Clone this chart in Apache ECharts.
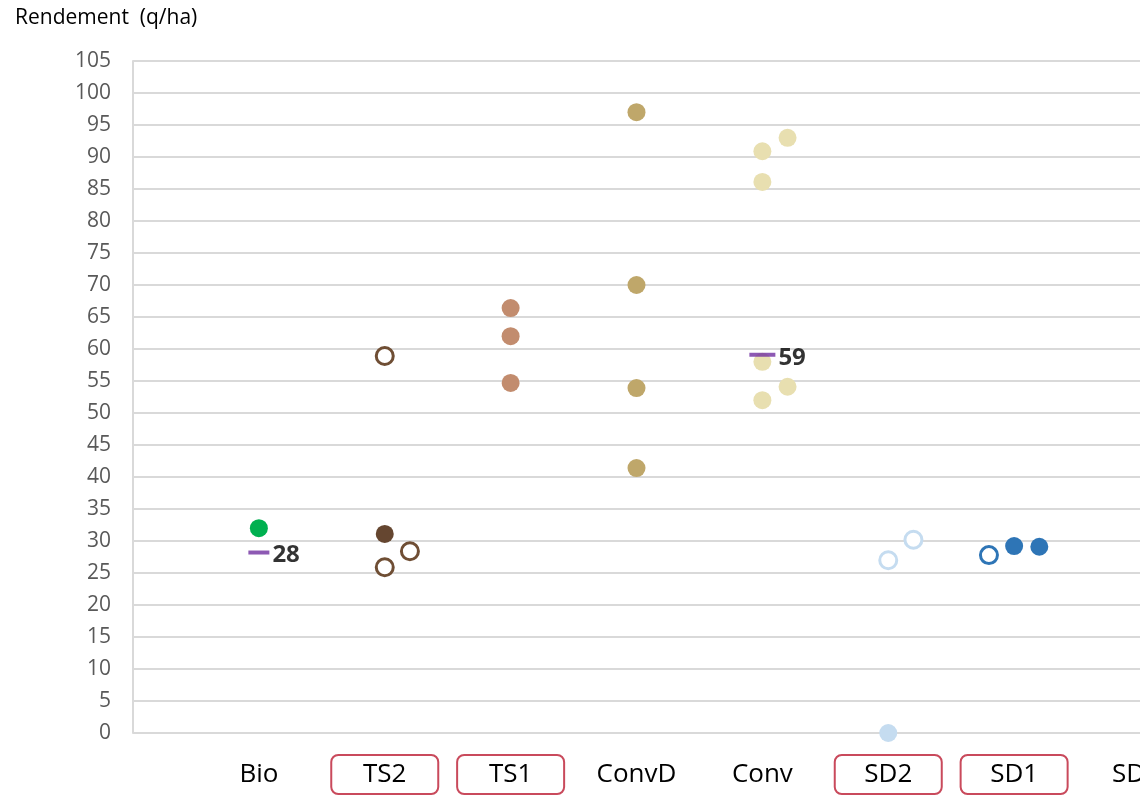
<!DOCTYPE html>
<html><head><meta charset="utf-8">
<script src="https://cdn.jsdelivr.net/npm/echarts@6/dist/echarts.min.js"></script>
<style>html,body{margin:0;padding:0;background:#fff}#c{width:1140px;height:800px}</style>
</head><body><div id="c"></div>
<script>
// Categories (x positions 1..8), boxed flags
const categories = ['Bio', 'TS2', 'TS1', 'ConvD', 'Conv', 'SD2', 'SD1', 'SD'];
const boxed = [false, true, true, false, false, true, true, false];
const yTicks = [0,5,10,15,20,25,30,35,40,45,50,55,60,65,70,75,80,85,90,95,100,105];

// Values (q/ha); "col" = jitter column within category (-1, 0, 1)
const bioFilled = [32.0];           const bioFilledCol = [0];
const ts2Filled = [31.1];           const ts2FilledCol = [0];
const ts2Open = [58.9, 25.9, 28.4]; const ts2OpenCol = [0, 0, 1];
const ts1Filled = [66.4, 62.0, 54.7]; const ts1FilledCol = [0, 0, 0];
const convDFilled = [97.0, 70.0, 53.9, 41.4]; const convDFilledCol = [0, 0, 0, 0];
const convFilled = [90.9, 93.0, 86.1, 58.0, 54.1, 52.0]; const convFilledCol = [0, 1, 0, 0, 1, 0];
const sd2Open = [27.0, 30.2];       const sd2OpenCol = [0, 1];
const sd2Filled = [0.0];            const sd2FilledCol = [0];
const sd1Open = [27.8];             const sd1OpenCol = [-1];
const sd1Filled = [29.2, 29.1];     const sd1FilledCol = [0, 1];
// Means
const meanCats = ['Bio', 'Conv'];
const meanValues = [28.2, 59.1];
const meanLabels = ['28', '59'];

const STEP = 0.2;
function pts(cat, vals, cols) {
  const ci = categories.indexOf(cat) + 1;
  return vals.map((v, i) => [ci + cols[i] * STEP, v]);
}
function filled(name, data, color) {
  return { name, type: 'scatter', data, symbol: 'circle', symbolSize: 18, clip: false,
    itemStyle: { color, opacity: 1 } };
}
function open(name, data, color) {
  return { name, type: 'scatter', data, symbol: 'circle', symbolSize: 17, clip: false,
    itemStyle: { color: '#ffffff', borderColor: color, borderWidth: 3, opacity: 1 } };
}

const series = [
  filled('Bio', pts('Bio', bioFilled, bioFilledCol), '#00b050'),
  filled('TS2', pts('TS2', ts2Filled, ts2FilledCol), '#654630'),
  open('TS2 o', pts('TS2', ts2Open, ts2OpenCol), '#6f4e34'),
  filled('TS1', pts('TS1', ts1Filled, ts1FilledCol), '#c28c6e'),
  filled('ConvD', pts('ConvD', convDFilled, convDFilledCol), '#bfa76a'),
  filled('Conv', pts('Conv', convFilled, convFilledCol), '#e8dfb0'),
  open('SD2 o', pts('SD2', sd2Open, sd2OpenCol), '#c5dcf0'),
  filled('SD2', pts('SD2', sd2Filled, sd2FilledCol), '#c5dcf0'),
  open('SD1 o', pts('SD1', sd1Open, sd1OpenCol), '#2e75b6'),
  filled('SD1', pts('SD1', sd1Filled, sd1FilledCol), '#2e75b6'),
  {
    name: 'Moyenne', type: 'scatter', symbol: 'rect', clip: false, z: 5,
    data: meanCats.map((c, i) => ({
      value: [categories.indexOf(c) + 1, meanValues[i]],
      symbolSize: i === 0 ? [21, 4] : [26, 4],
      label: { formatter: meanLabels[i] }
    })),
    itemStyle: { color: '#7030a0' },
    label: { show: true, position: 'right', distance: 3, offset: [0, 3], color: '#000', fontWeight: 'bold',
      fontSize: 24, fontFamily: 'Open Sans' }
  }
];

const chart = echarts.init(document.getElementById('c'), null, { renderer: 'canvas' });
chart.setOption({
  animation: false,
  backgroundColor: '#ffffff',
  grid: { left: 133, right: 0, top: 61, bottom: 67, containLabel: false, outerBoundsMode: 'none' },
  graphic: [{ type: 'text', left: 15, top: 8,
    style: { text: 'Rendement  (q/ha)', fill: '#000', font: '21px "Open Sans"' } }],
  xAxis: {
    type: 'value', min: 0, max: 8, interval: 1,
    axisLine: { show: false }, axisTick: { show: false }, splitLine: { show: false },
    axisLabel: {
      show: true, margin: 22, showMinLabel: false, showMaxLabel: true, hideOverlap: false,
      formatter: v => {
        if (v < 1 || v > 8 || Math.round(v) !== v) return '';
        const name = categories[v - 1];
        if (v === 8) return '{edge|' + name + '}';
        return boxed[v - 1] ? '{box|' + name + '}' : '{plain|' + name + '}';
      },
      rich: {
        box: { fontSize: 26, fontFamily: 'Open Sans', color: '#000', borderColor: '#c94a5c',
          borderWidth: 2, borderRadius: 7, width: 107, height: 39, lineHeight: 39, align: 'center' },
        plain: { fontSize: 26, fontFamily: 'Open Sans', color: '#000', height: 39, lineHeight: 39, align: 'center' },
        edge: { fontSize: 26, fontFamily: 'Open Sans', color: '#000', height: 39, lineHeight: 39,
          width: 56, align: 'left' }
      }
    }
  },
  yAxis: {
    type: 'value', min: 0, max: 105, interval: 5,
    axisLine: { show: true, lineStyle: { color: '#d9d9d9', width: 2 } },
    axisTick: { show: false },
    splitLine: { show: true, lineStyle: { color: '#d9d9d9', width: 2 } },
    axisLabel: { color: '#595959', fontSize: 21, fontFamily: 'Open Sans', margin: 22,
      formatter: v => yTicks.includes(v) ? String(v) : '' }
  },
  series
});
</script></body></html>
